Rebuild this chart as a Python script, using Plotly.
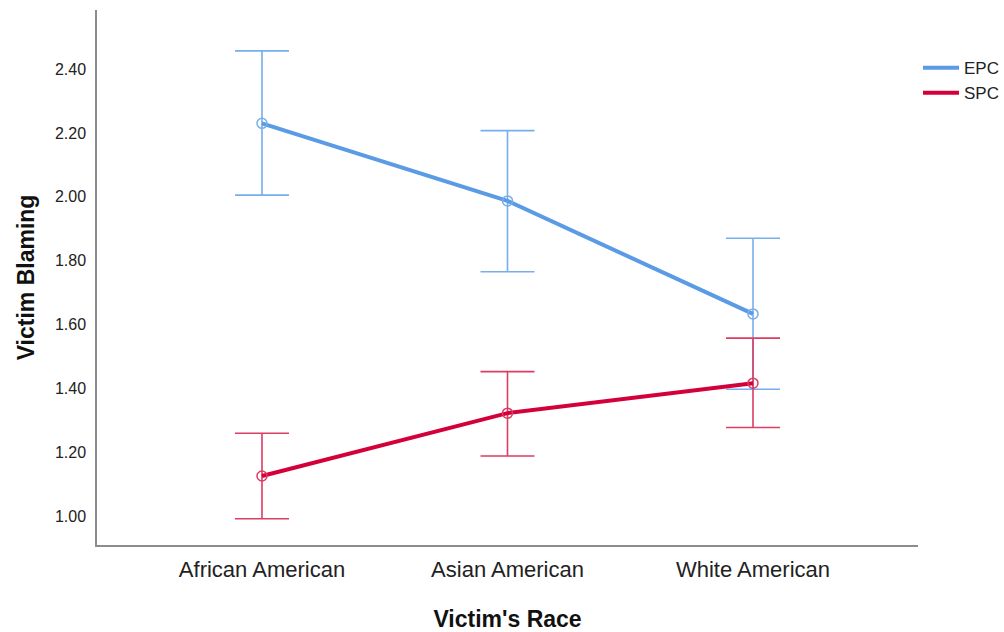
import plotly.graph_objects as go

# Estimated marginal means of victim blaming with 95% CI
races = ["African American", "Asian American", "White American"]

epc_mean = [2.230, 1.987, 1.633]
epc_upper = [2.457, 2.207, 1.870]
epc_lower = [2.005, 1.765, 1.397]

spc_mean = [1.125, 1.322, 1.416]
spc_upper = [1.259, 1.452, 1.557]
spc_lower = [0.991, 1.188, 1.277]

y_ticks = [1.00, 1.20, 1.40, 1.60, 1.80, 2.00, 2.20, 2.40]

FONT = "Liberation Sans, Arial, sans-serif"
x_pos = list(range(len(races)))


def series(name, mean, upper, lower, line_color, bar_color):
    return go.Scatter(
        x=x_pos,
        y=mean,
        name=name,
        showlegend=False,
        mode="lines+markers",
        line=dict(color=line_color, width=4),
        marker=dict(symbol="circle-open", size=10,
                    color=bar_color, line=dict(width=1.5, color=bar_color)),
        error_y=dict(
            type="data",
            symmetric=False,
            array=[u - m for u, m in zip(upper, mean)],
            arrayminus=[m - l for m, l in zip(mean, lower)],
            color=bar_color,
            thickness=1.6,
            width=27,
        ),
    )


def legend_entry(name, line_color):
    return go.Scatter(x=[None], y=[None], name=name, mode="lines",
                      line=dict(color=line_color, width=4), showlegend=True)


fig = go.Figure()
fig.add_trace(series("EPC", epc_mean, epc_upper, epc_lower, "#5B9BE5", "#78AEEC"))
fig.add_trace(series("SPC", spc_mean, spc_upper, spc_lower, "#D4003A", "#DB3D63"))
fig.add_trace(legend_entry("EPC", "#5B9BE5"))
fig.add_trace(legend_entry("SPC", "#D4003A"))

fig.update_layout(
    width=1004,
    height=632,
    margin=dict(l=97, r=86, t=10, b=87, autoexpand=False),
    paper_bgcolor="white",
    plot_bgcolor="white",
    font=dict(family=FONT, color="#222222"),
    legend=dict(
        x=1.0, y=0.925, xanchor="left", yanchor="top",
        font=dict(family=FONT, size=17, color="#222222"),
        itemwidth=36, tracegroupgap=0,
        bgcolor="rgba(0,0,0,0)",
    ),
    xaxis=dict(
        range=[-0.672, 2.672],
        tickmode="array",
        tickvals=x_pos,
        ticktext=races,
        tickfont=dict(size=22, family=FONT, color="#222222"),
        ticks="",
        ticklabelstandoff=4,
        showgrid=False,
        zeroline=False,
        showline=True,
        linecolor="#8C8C8C",
        linewidth=1.5,
        title=dict(text="<b>Victim's Race</b>", font=dict(size=23, family=FONT, color="#111111"),
                   standoff=33),
    ),
    yaxis=dict(
        range=[0.909, 2.585],
        tickmode="array",
        tickvals=y_ticks,
        ticktext=[f"{v:.2f}" for v in y_ticks],
        tickfont=dict(size=16, family=FONT, color="#222222"),
        ticks="",
        ticklabelstandoff=6,
        showgrid=False,
        zeroline=False,
        showline=True,
        linecolor="#8C8C8C",
        linewidth=1.5,
        title=dict(text="<b>Victim Blaming</b>", font=dict(size=23, family=FONT, color="#111111"),
                   standoff=14),
    ),
)

fig.write_html("out.html")
